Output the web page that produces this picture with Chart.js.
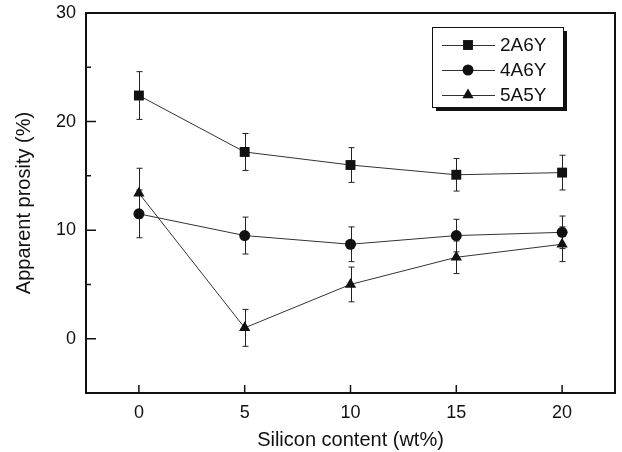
<!DOCTYPE html>
<html>
<head>
<meta charset="utf-8">
<script src="https://cdn.jsdelivr.net/npm/chart.js@4.4.1/dist/chart.umd.min.js"></script>
<style>
  body { margin: 0; background: #fff; }
  canvas { display: block; }
</style>
</head>
<body>
<canvas id="porosityChart" width="622" height="452"></canvas>
<script>
// Data
const siliconContent = [0, 5, 10, 15, 20];
const xTickValues = [0, 5, 10, 15, 20];
const yTickValues = [0, 10, 20, 30];
const yMinorTicks = [5, 15, 25];

const seriesNames = ['2A6Y', '4A6Y', '5A5Y'];
const porosity2A6Y = [22.4, 17.2, 16.0, 15.1, 15.3];
const error2A6Y = [2.2, 1.7, 1.6, 1.5, 1.6];
const porosity4A6Y = [11.5, 9.5, 8.7, 9.5, 9.8];
const error4A6Y = [2.2, 1.7, 1.6, 1.5, 1.5];
const porosity5A5Y = [13.4, 1.0, 5.0, 7.5, 8.7];
const error5A5Y = [2.3, 1.7, 1.6, 1.5, 1.6];

const FONT = 'Arial, "Liberation Sans", sans-serif';
const INK = '#111';

const toPoints = (ys) => siliconContent.map((x, i) => ({ x: x, y: ys[i] }));

function makeDataset(label, ys, errs, style, radius) {
    return {
        label: label,
        data: toPoints(ys),
        errors: errs,
        showLine: true,
        borderColor: '#333',
        borderWidth: 1,
        backgroundColor: INK,
        pointBackgroundColor: INK,
        pointBorderColor: INK,
        pointBorderWidth: 0,
        pointStyle: style,
        pointRadius: radius,
        tension: 0
    };
}

// Vertical error bars, drawn below the markers
const errorBars = {
    id: 'errorBars',
    beforeDatasetsDraw(chart) {
        const { ctx, scales: { x, y } } = chart;
        ctx.save();
        ctx.strokeStyle = '#222';
        ctx.lineWidth = 1;
        chart.data.datasets.forEach(ds => {
            ds.data.forEach((p, i) => {
                const px = Math.round(x.getPixelForValue(p.x)) + 0.5;
                const top = y.getPixelForValue(p.y + ds.errors[i]);
                const bot = y.getPixelForValue(p.y - ds.errors[i]);
                ctx.beginPath();
                ctx.moveTo(px, top);
                ctx.lineTo(px, bot);
                ctx.moveTo(px - 3, top);
                ctx.lineTo(px + 3, top);
                ctx.moveTo(px - 3, bot);
                ctx.lineTo(px + 3, bot);
                ctx.stroke();
            });
        });
        ctx.restore();
    }
};

// Box frame, inward ticks and the legend with shadow
const frameAndLegend = {
    id: 'frameAndLegend',
    afterDraw(chart) {
        const { ctx, chartArea: a, scales: { x, y } } = chart;
        ctx.save();
        ctx.strokeStyle = INK;
        ctx.lineWidth = 2;
        ctx.strokeRect(a.left, a.top, a.right - a.left, a.bottom - a.top);

        ctx.lineWidth = 1.5;
        ctx.beginPath();
        yTickValues.forEach(v => {
            const py = y.getPixelForValue(v);
            ctx.moveTo(a.left, py);
            ctx.lineTo(a.left + 10, py);
        });
        yMinorTicks.forEach(v => {
            const py = y.getPixelForValue(v);
            ctx.moveTo(a.left, py);
            ctx.lineTo(a.left + 5, py);
        });
        xTickValues.forEach(v => {
            const px = x.getPixelForValue(v);
            ctx.moveTo(px, a.bottom);
            ctx.lineTo(px, a.bottom - 8);
        });
        ctx.stroke();

        // legend
        const lx = 432, ly = 27, lw = 131, lh = 80;
        ctx.fillStyle = INK;
        ctx.fillRect(lx + 4, ly + 4, lw, lh);
        ctx.fillStyle = '#fff';
        ctx.fillRect(lx, ly, lw, lh);
        ctx.lineWidth = 1;
        ctx.strokeRect(lx + 0.5, ly + 0.5, lw, lh);

        ctx.font = '19px ' + FONT;
        ctx.textBaseline = 'middle';
        chart.data.datasets.forEach((ds, i) => {
            const ry = ly + 18 + i * 25;
            ctx.strokeStyle = '#333';
            ctx.lineWidth = 1;
            ctx.beginPath();
            ctx.moveTo(lx + 10, ry + 0.5);
            ctx.lineTo(lx + 63, ry + 0.5);
            ctx.stroke();
            ctx.fillStyle = INK;
            Chart.helpers.drawPoint(ctx, {
                pointStyle: ds.pointStyle,
                radius: ds.pointRadius,
                borderWidth: 0
            }, lx + 36, ry);
            ctx.fillStyle = INK;
            ctx.fillText(ds.label, lx + 68, ry + 1);
        });
        ctx.restore();
    }
};

const chart = new Chart(document.getElementById('porosityChart'), {
    type: 'scatter',
    data: {
        datasets: [
            makeDataset(seriesNames[0], porosity2A6Y, error2A6Y, 'rect', 7),
            makeDataset(seriesNames[1], porosity4A6Y, error4A6Y, 'circle', 5.5),
            makeDataset(seriesNames[2], porosity5A5Y, error5A5Y, 'triangle', 6.5)
        ]
    },
    options: {
        responsive: false,
        animation: false,
        layout: { padding: { top: 13, right: 6, left: 0, bottom: 0 } },
        plugins: {
            legend: { display: false },
            tooltip: { enabled: false }
        },
        scales: {
            x: {
                type: 'linear',
                min: -2.5,
                max: 22.5,
                grid: { display: false },
                border: { display: false },
                afterBuildTicks: (s) => { s.ticks = xTickValues.map(v => ({ value: v })); },
                afterFit: (s) => { s.height = 59; },
                ticks: { color: INK, font: { family: FONT, size: 18 }, padding: 1, maxRotation: 0 },
                title: {
                    display: true,
                    text: 'Silicon content (wt%)',
                    color: INK,
                    font: { family: FONT, size: 20 },
                    padding: 0
                }
            },
            y: {
                type: 'linear',
                min: -5,
                max: 30,
                grid: { display: false },
                border: { display: false },
                afterBuildTicks: (s) => { s.ticks = yTickValues.map(v => ({ value: v })); },
                afterFit: (s) => { s.width = 86; },
                ticks: { color: INK, font: { family: FONT, size: 18 }, padding: 2 },
                title: {
                    display: true,
                    text: 'Apparent prosity (%)',
                    color: INK,
                    font: { family: FONT, size: 20 },
                    padding: { top: 12, bottom: 0 }
                }
            }
        }
    },
    plugins: [errorBars, frameAndLegend]
});
</script>
</body>
</html>
